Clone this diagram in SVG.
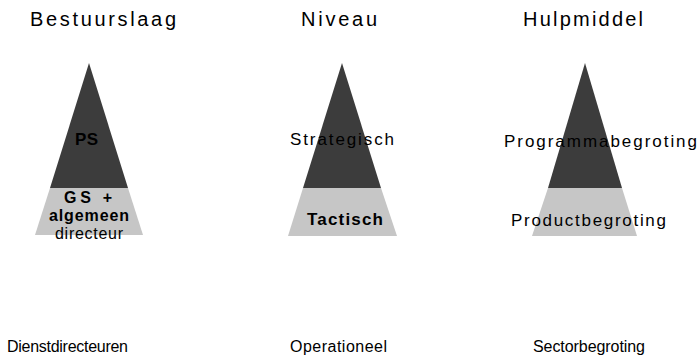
<svg xmlns="http://www.w3.org/2000/svg" width="700" height="360" viewBox="0 0 700 360">
<style>
text{font-family:"Liberation Sans",Arial,sans-serif;fill:#000}
.h{font-size:20px}
.l{font-size:17px}
.m{font-size:16px}
.s{font-size:16px}
.b{font-weight:bold}
.dark{fill:#3c3c3c}
.light{fill:#c6c6c6}
</style>
<rect width="700" height="360" fill="#fff"/>
<g id="headers">
<text class="h" x="30" y="26" textLength="146" lengthAdjust="spacing">Bestuurslaag</text>
<text class="h" x="301" y="26" textLength="76" lengthAdjust="spacing">Niveau</text>
<text class="h" x="523" y="26" textLength="120" lengthAdjust="spacing">Hulpmiddel</text>
</g>
<g id="pyramid-bestuurslaag">
<polygon class="dark" points="89,63 128,188 50,188"/>
<polygon class="light" points="50,188 128,188 143,235 35,235"/>
<text class="l b" x="75" y="145" textLength="23" lengthAdjust="spacing">PS</text>
<text class="m b" x="64" y="203" textLength="48" lengthAdjust="spacing">GS +</text>
<text class="m b" x="49" y="221" textLength="80" lengthAdjust="spacing">algemeen</text>
<text class="m" x="55" y="239" textLength="68" lengthAdjust="spacing">directeur</text>
</g>
<g id="pyramid-niveau">
<polygon class="dark" points="342,63 381,188 303,188"/>
<polygon class="light" points="303,188 381,188 397,236 288,236"/>
<text class="l" x="290" y="145" textLength="104" lengthAdjust="spacing">Strategisch</text>
<text class="l b" x="307" y="225" textLength="76" lengthAdjust="spacing">Tactisch</text>
</g>
<g id="pyramid-hulpmiddel">
<polygon class="dark" points="585,63 622,188 548,188"/>
<polygon class="light" points="548,188 622,188 637,236 532,236"/>
<text class="l" x="504" y="147" textLength="193" lengthAdjust="spacing">Programmabegroting</text>
<text class="l" x="511" y="226" textLength="155" lengthAdjust="spacing">Productbegroting</text>
</g>
<g id="bottom">
<text class="s" x="7" y="352" textLength="121" lengthAdjust="spacing">Dienstdirecteuren</text>
<text class="s" x="290" y="352" textLength="97" lengthAdjust="spacing">Operationeel</text>
<text class="s" x="533" y="352" textLength="112" lengthAdjust="spacing">Sectorbegroting</text>
</g>
<g id="connectors"></g>
</svg>
